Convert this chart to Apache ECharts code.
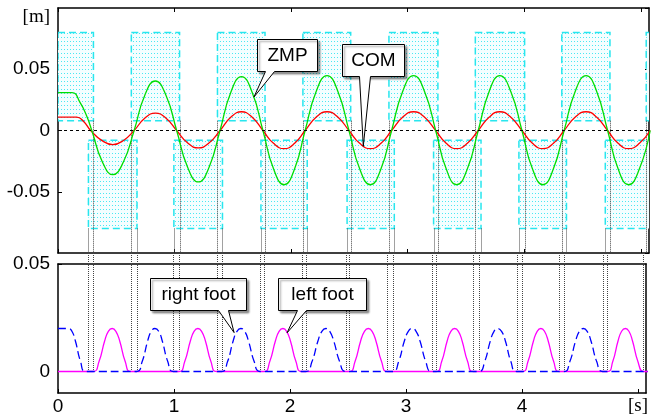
<!DOCTYPE html>
<html>
<head>
<meta charset="utf-8">
<style>
  html, body { margin: 0; padding: 0; background: #fff; }
  #main { width: 651px; height: 419px; }
</style>
<script src="https://cdn.jsdelivr.net/npm/echarts@6/dist/echarts.min.js"></script>
</head>
<body>
<div id="main"></div>
<script>
// time axis [s]
var xMax = 5.07
var xTicks = [0, 1, 2, 3, 4, 5]

// foot support phases [t start, t end]
var leftSupport = [[0, 0.304], [0.629, 1.043], [1.368, 1.776], [2.101, 2.511], [2.839, 3.259], [3.580, 4.003], [4.322, 4.735], [5.046, 5.2]]
var rightSupport = [[0.261, 0.678], [0.994, 1.411], [1.741, 2.138], [2.480, 2.885], [3.222, 3.629], [3.954, 4.362], [4.695, 5.103]]
// support polygon lateral extent [m]
var leftPad = [0.008, 0.08]
var rightPad = [-0.08, -0.008]

// double support boundaries (vertical dotted lines)
var leftEdges = [0.304, 0.629, 1.043, 1.368, 1.776, 2.101, 2.511, 2.839, 3.259, 3.580, 4.003, 4.322, 4.735, 5.046]
var rightEdges = [0.261, 0.678, 0.994, 1.411, 1.741, 2.138, 2.480, 2.885, 3.222, 3.629, 3.954, 4.362, 4.695]

// ZMP lateral [t, m]
var zmp = [
  [0, 0.031], [0.12, 0.031], [0.19, 0.0227], [0.247, 0.0117], [0.29, 0],
  [0.38, -0.0255], [0.47, -0.036], [0.562, -0.0255], [0.653, 0],
  [0.744, 0.0286], [0.835, 0.0404], [0.927, 0.0286], [1.018, 0],
  [1.111, -0.0297], [1.204, -0.042], [1.297, -0.0297], [1.39, 0],
  [1.482, 0.0311], [1.574, 0.044], [1.666, 0.0311], [1.758, 0],
  [1.849, -0.0313], [1.94, -0.0443], [2.03, -0.0313], [2.12, 0],
  [2.214, 0.0317], [2.308, 0.0448], [2.402, 0.0317], [2.496, 0],
  [2.588, -0.0313], [2.68, -0.0443], [2.771, -0.0313], [2.862, 0],
  [2.956, 0.0317], [3.05, 0.0448], [3.145, 0.0317], [3.24, 0],
  [3.33, -0.0313], [3.42, -0.0443], [3.512, -0.0313], [3.605, 0],
  [3.698, 0.0317], [3.79, 0.0448], [3.885, 0.0317], [3.98, 0],
  [4.07, -0.0313], [4.16, -0.0443], [4.25, -0.0313], [4.342, 0],
  [4.436, 0.0317], [4.53, 0.0448], [4.622, 0.0317], [4.715, 0],
  [4.805, -0.0313], [4.895, -0.0443], [4.988, -0.0313], [5.08, 0]
]

// COM lateral [t, m]
var com = [
  [0, 0.011], [0.16, 0.011], [0.218, 0.0076], [0.28, 0],
  [0.375, -0.0081], [0.47, -0.0115], [0.562, -0.0081], [0.653, 0],
  [0.744, 0.01], [0.835, 0.0142], [0.927, 0.01], [1.018, 0],
  [1.111, -0.01], [1.204, -0.0142], [1.297, -0.01], [1.39, 0],
  [1.482, 0.0108], [1.574, 0.0153], [1.666, 0.0108], [1.758, 0],
  [1.849, -0.0105], [1.94, -0.0148], [2.03, -0.0105], [2.12, 0],
  [2.214, 0.0108], [2.308, 0.0153], [2.402, 0.0108], [2.496, 0],
  [2.588, -0.0105], [2.68, -0.0148], [2.771, -0.0105], [2.862, 0],
  [2.956, 0.0108], [3.05, 0.0153], [3.145, 0.0108], [3.24, 0],
  [3.33, -0.0105], [3.42, -0.0148], [3.512, -0.0105], [3.605, 0],
  [3.698, 0.0108], [3.79, 0.0153], [3.885, 0.0108], [3.98, 0],
  [4.07, -0.0105], [4.16, -0.0148], [4.25, -0.0105], [4.342, 0],
  [4.436, 0.0108], [4.53, 0.0153], [4.622, 0.0108], [4.715, 0],
  [4.805, -0.0105], [4.895, -0.0148], [4.988, -0.0105], [5.08, 0]
]

// foot heights [t, m]
var leftFoot = [
  [0, 0],
  [0.304, 0], [0.353, 0.0045], [0.402, 0.0142], [0.434, 0.0187], [0.467, 0.02], [0.499, 0.0187], [0.532, 0.0142], [0.580, 0.0045], [0.629, 0],
  [1.043, 0], [1.092, 0.0045], [1.141, 0.0142], [1.173, 0.0187], [1.206, 0.02], [1.238, 0.0187], [1.271, 0.0142], [1.319, 0.0045], [1.368, 0],
  [1.776, 0], [1.825, 0.0045], [1.874, 0.0142], [1.906, 0.0187], [1.939, 0.02], [1.971, 0.0187], [2.004, 0.0142], [2.052, 0.0045], [2.101, 0],
  [2.511, 0], [2.560, 0.0045], [2.609, 0.0142], [2.642, 0.0187], [2.675, 0.02], [2.708, 0.0187], [2.741, 0.0142], [2.790, 0.0045], [2.839, 0],
  [3.259, 0], [3.307, 0.0045], [3.355, 0.0142], [3.387, 0.0187], [3.420, 0.02], [3.452, 0.0187], [3.484, 0.0142], [3.532, 0.0045], [3.580, 0],
  [4.003, 0], [4.051, 0.0045], [4.099, 0.0142], [4.131, 0.0187], [4.163, 0.02], [4.194, 0.0187], [4.226, 0.0142], [4.274, 0.0045], [4.322, 0],
  [4.735, 0], [4.782, 0.0045], [4.828, 0.0142], [4.859, 0.0187], [4.891, 0.02], [4.922, 0.0187], [4.953, 0.0142], [5.000, 0.0045], [5.046, 0],
  [5.1, 0]
]
var rightFoot = [
  [0, 0.02], [0.09, 0.02], [0.12, 0.0187], [0.15, 0.0142], [0.195, 0.0045], [0.24, 0],
  [0.678, 0], [0.725, 0.0045], [0.773, 0.0142], [0.804, 0.0187], [0.836, 0.02], [0.868, 0.0187], [0.899, 0.0142], [0.947, 0.0045], [0.994, 0],
  [1.411, 0], [1.461, 0.0045], [1.510, 0.0142], [1.543, 0.0187], [1.576, 0.02], [1.609, 0.0187], [1.642, 0.0142], [1.692, 0.0045], [1.741, 0],
  [2.138, 0], [2.189, 0.0045], [2.241, 0.0142], [2.275, 0.0187], [2.309, 0.02], [2.343, 0.0187], [2.377, 0.0142], [2.429, 0.0045], [2.480, 0],
  [2.885, 0], [2.936, 0.0045], [2.986, 0.0142], [3.020, 0.0187], [3.054, 0.02], [3.087, 0.0187], [3.121, 0.0142], [3.171, 0.0045], [3.222, 0],
  [3.629, 0], [3.678, 0.0045], [3.727, 0.0142], [3.759, 0.0187], [3.792, 0.02], [3.824, 0.0187], [3.857, 0.0142], [3.905, 0.0045], [3.954, 0],
  [4.362, 0], [4.412, 0.0045], [4.462, 0.0142], [4.495, 0.0187], [4.529, 0.02], [4.562, 0.0187], [4.595, 0.0142], [4.645, 0.0045], [4.695, 0],
  [5.1, 0]
]

var FONT = 'Liberation Sans'
var SERIF = 'Liberation Serif'
var GAP = 11 // px between the two panels

// dotted texture for the support areas
var pc = document.createElement('canvas')
pc.width = 3
pc.height = 4
var pctx = pc.getContext('2d')
pctx.fillStyle = '#f4feff'
pctx.fillRect(0, 0, 3, 4)
pctx.fillStyle = '#4ae8f2'
pctx.fillRect(1, 1, 1, 1)
var dotFill = { image: pc, repeat: 'repeat' }

var rects = []
leftSupport.forEach(function(s) { rects.push([s[0], s[1], leftPad[0], leftPad[1]]) })
rightSupport.forEach(function(s) { rects.push([s[0], s[1], rightPad[0], rightPad[1]]) })

var edgeTop = []
leftEdges.forEach(function(t) { edgeTop.push([t, leftPad[0]]) })
rightEdges.forEach(function(t) { edgeTop.push([t, rightPad[0]]) })
var edgeAll = leftEdges.concat(rightEdges).map(function(t) { return [t, 0] })

var axisLine = { show: true, onZero: false, lineStyle: { color: '#000', width: 1.5 } }

function xAxisOf(grid, pos, showTick, showLabel) {
  return {
    gridIndex: grid, type: 'value', position: pos, min: 0, max: xMax,
    axisLine: axisLine,
    axisTick: { show: showTick, inside: true, length: 4, customValues: xTicks, lineStyle: { color: '#000', width: 1 } },
    axisLabel: {
      show: showLabel, customValues: xTicks, margin: 4,
      fontFamily: FONT, fontSize: 19, color: '#000',
      formatter: function(v) { return v === 5 ? '{u|[s]}' : String(v) },
      rich: { u: { fontFamily: SERIF, fontSize: 19, color: '#000' } }
    },
    splitLine: { show: false }
  }
}

var option = {
  animation: false,
  backgroundColor: '#fff',
  grid: [
    { left: 58, top: 8, width: 591, height: 245 },
    { left: 58, top: 264, width: 591, height: 129 }
  ],
  xAxis: [
    xAxisOf(0, 'bottom', true, false),
    xAxisOf(0, 'top', true, false),
    xAxisOf(1, 'bottom', true, true),
    xAxisOf(1, 'top', false, false)
  ],
  yAxis: [
    {
      gridIndex: 0, type: 'value', position: 'left', min: -0.1, max: 0.1, interval: 0.05,
      axisLine: axisLine,
      axisTick: { inside: true, length: 4, lineStyle: { color: '#000' } },
      axisLabel: { showMinLabel: false, showMaxLabel: false, margin: 8, fontFamily: FONT, fontSize: 19, color: '#000' },
      splitLine: { show: false }
    },
    {
      gridIndex: 0, type: 'value', position: 'right', min: -0.1, max: 0.1, interval: 0.05,
      axisLine: axisLine,
      axisTick: { inside: true, length: 4, lineStyle: { color: '#000' } },
      axisLabel: { show: false },
      splitLine: { show: false }
    },
    {
      gridIndex: 1, type: 'value', position: 'left', min: -0.01, max: 0.05,
      axisLine: axisLine,
      axisTick: { inside: true, length: 4, customValues: [0, 0.05], lineStyle: { color: '#000' } },
      axisLabel: { customValues: [0, 0.05], margin: 8, fontFamily: FONT, fontSize: 19, color: '#000' },
      splitLine: { show: false }
    },
    {
      gridIndex: 1, type: 'value', position: 'right', min: -0.01, max: 0.05,
      axisLine: axisLine,
      axisTick: { show: false },
      axisLabel: { show: false },
      splitLine: { show: false }
    }
  ],
  series: [
    {
      name: 'support',
      type: 'custom',
      xAxisIndex: 0, yAxisIndex: 0,
      clip: true, silent: true, z: 1,
      data: rects,
      encode: { x: [0, 1], y: [2, 3] },
      renderItem: function(params, api) {
        var p0 = api.coord([api.value(0), api.value(3)])
        var p1 = api.coord([api.value(1), api.value(2)])
        return {
          type: 'rect',
          shape: { x: p0[0], y: p0[1], width: p1[0] - p0[0], height: p1[1] - p0[1] },
          style: { fill: dotFill, stroke: '#28e6ee', lineWidth: 1.5, lineDash: [7, 4] }
        }
      },
      markLine: {
        silent: true, symbol: 'none', label: { show: false },
        lineStyle: { color: '#000', type: [3, 3], width: 1 },
        data: [{ yAxis: 0 }]
      }
    },
    {
      name: 'edges top',
      type: 'custom',
      xAxisIndex: 0, yAxisIndex: 0,
      clip: true, silent: true, z: 2,
      data: edgeTop,
      renderItem: function(params, api) {
        var p0 = api.coord([api.value(0), api.value(1)])
        var p1 = api.coord([api.value(0), -0.1])
        var x = Math.round(p0[0]) + 0.5
        return {
          type: 'line',
          shape: { x1: x, y1: p0[1], x2: x, y2: p1[1] },
          style: { stroke: '#444', lineWidth: 1, lineDash: [1, 1] }
        }
      }
    },
    {
      name: 'edges bottom',
      type: 'custom',
      xAxisIndex: 2, yAxisIndex: 2,
      clip: false, silent: true, z: 2,
      data: edgeAll,
      renderItem: function(params, api) {
        var p = api.coord([api.value(0), api.value(1)])
        var x = Math.round(p[0]) + 0.5
        return {
          type: 'line',
          shape: { x1: x, y1: params.coordSys.y - GAP, x2: x, y2: p[1] },
          style: { stroke: '#444', lineWidth: 1, lineDash: [1, 1] }
        }
      }
    },
    {
      name: 'COM', type: 'line', xAxisIndex: 0, yAxisIndex: 0,
      data: com, smooth: true, showSymbol: false, z: 4,
      lineStyle: { color: '#ff0000', width: 1.3 }
    },
    {
      name: 'ZMP', type: 'line', xAxisIndex: 0, yAxisIndex: 0,
      data: zmp, smooth: true, showSymbol: false, z: 4,
      lineStyle: { color: '#00dd00', width: 1.3 }
    },
    {
      name: 'left foot', type: 'line', xAxisIndex: 2, yAxisIndex: 2,
      data: leftFoot, smooth: true, showSymbol: false, z: 4,
      lineStyle: { color: '#ff00ff', width: 1.3 }
    },
    {
      name: 'right foot', type: 'line', xAxisIndex: 2, yAxisIndex: 2,
      data: rightFoot, smooth: true, showSymbol: false, z: 5,
      lineStyle: { color: '#0000ff', width: 1.3, type: [8, 4] }
    }
  ]
}

var chart = echarts.init(document.getElementById('main'), null, { renderer: 'canvas' })
chart.setOption(option)

// callout boxes: tip in data coords, box and pointer base in px
var notes = [
  { text: 'ZMP', grid: 0, tip: [1.681, 0.0273], box: [257, 39, 60, 32], base: [265, 274] },
  { text: 'COM', grid: 0, tip: [2.619, -0.0129], box: [342, 44, 62, 32], base: [359, 370] },
  { text: 'right foot', grid: 1, tip: [1.518, 0.0181], box: [150, 278, 96, 32], base: [218, 228] },
  { text: 'left foot', grid: 1, tip: [1.975, 0.018], box: [278, 278, 88, 32], base: [297, 306] }
]

var elements = []
notes.forEach(function(n) {
  var tip = chart.convertToPixel({ gridIndex: n.grid }, n.tip)
  var b = n.box
  var yb = b[1] + b[3] + 0.5
  elements.push({
    type: 'rect', z: 100,
    shape: { x: b[0] + 0.5, y: b[1] + 0.5, width: b[2], height: b[3] },
    style: { fill: '#fff', stroke: '#000', lineWidth: 1, shadowBlur: 2, shadowOffsetX: 2, shadowOffsetY: 2, shadowColor: 'rgba(0,0,0,0.4)' }
  })
  elements.push({
    type: 'polygon', z: 101,
    shape: { points: [[n.base[0] + 0.5, yb - 1.5], [n.base[1] + 0.5, yb - 1.5], [n.base[1] + 0.5, yb], tip, [n.base[0] + 0.5, yb]] },
    style: { fill: '#fff' }
  })
  elements.push({
    type: 'polyline', z: 102,
    shape: { points: [[n.base[0] + 0.5, yb], tip, [n.base[1] + 0.5, yb]] },
    style: { stroke: '#000', lineWidth: 1, fill: null }
  })
  elements.push({
    type: 'text', z: 103,
    style: {
      text: n.text, x: b[0] + b[2] / 2 + 0.5, y: b[1] + b[3] / 2 + 1,
      align: 'center', verticalAlign: 'middle',
      font: '19px "' + FONT + '"', fill: '#000'
    }
  })
})
elements.push({
  type: 'text', z: 103,
  style: { text: '[m]', x: 50, y: 17, align: 'right', verticalAlign: 'middle', font: '19px "' + SERIF + '"', fill: '#000' }
})

chart.setOption({ graphic: { elements: elements } })
</script>
</body>
</html>
